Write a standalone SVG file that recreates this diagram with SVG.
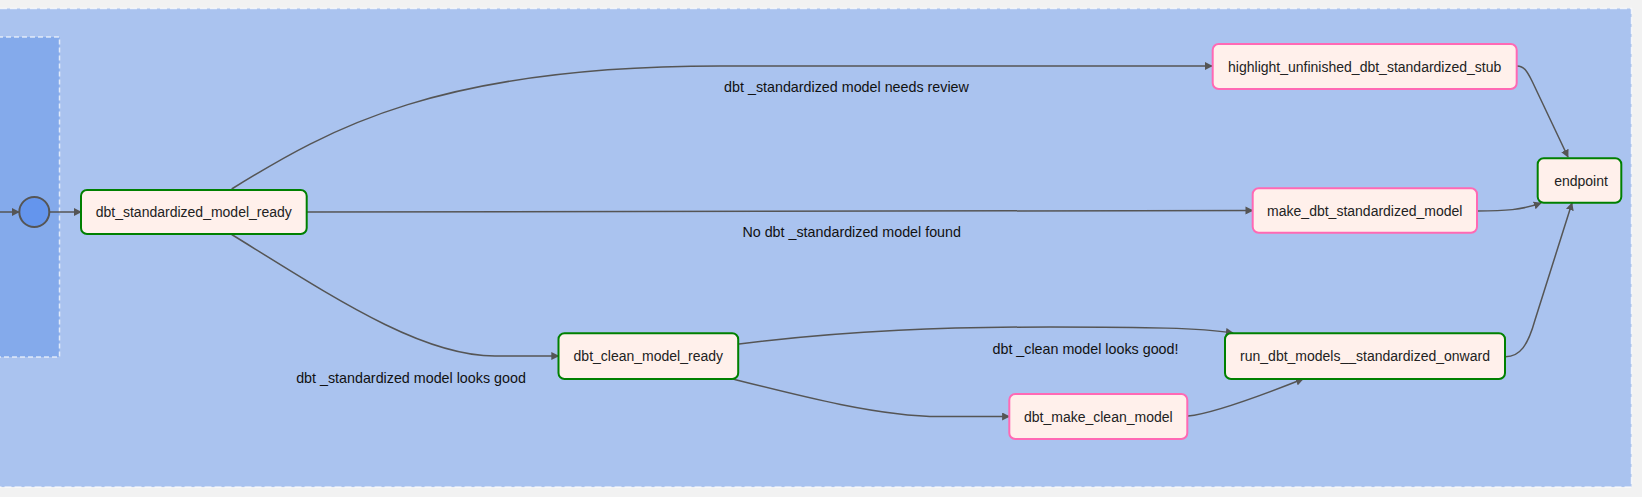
<svg xmlns="http://www.w3.org/2000/svg" width="1642" height="497" viewBox="0 0 1642 497">
<defs>
<marker id="arr" viewBox="0 0 10 10" refX="9" refY="5" markerWidth="8" markerHeight="8" markerUnits="userSpaceOnUse" orient="auto">
<path d="M0,0 L10,5 L0,10 z" fill="#555"/>
</marker>
<style>
.node rect{fill:#fff0eb;stroke-width:2;}
.ok rect{stroke:#008000;}
.warn rect{stroke:#ff69b4;}
text{font-family:"Liberation Sans",Arial,sans-serif;font-size:14px;fill:#222;}
.node text{text-anchor:middle;dominant-baseline:central;}
.lbl{text-anchor:middle;dominant-baseline:central;font-size:14.3px;fill:#111;}
.edge{fill:none;stroke:#555;stroke-width:1.5;marker-end:url(#arr);}
</style>
</defs>
<rect x="0" y="0" width="1642" height="497" fill="#f2f2f2"/>
<g id="container">
<rect x="-10" y="8.5" width="1641.5" height="478.5" fill="#aac3ef" stroke="#ffffff" stroke-opacity="0.7" stroke-width="1.5" stroke-dasharray="7 3"/>
<rect x="-10" y="37" width="69.5" height="320" fill="#84aaeb" stroke="#ffffff" stroke-opacity="0.7" stroke-width="1.5" stroke-dasharray="5 3"/>
</g>
<g id="connectors">
<path class="edge" d="M0,212 L19,212"/>
<path class="edge" d="M49,212 L81,212"/>
<path class="edge" d="M231.7,189 C330,128 440,66 720,66 L1212,66"/>
<path class="edge" d="M306.7,212 C600,211.5 900,211 1252.7,210.5"/>
<path class="edge" d="M231.7,234.5 C330,295 420,356 495,356 L558.5,356"/>
<path class="edge" d="M739,344 C850,330 950,327 1050,327 C1150,327 1200,328 1233,333"/>
<path class="edge" d="M733,379 C800,396 880,416.5 940,416.5 L1009.3,416.5"/>
<path class="edge" d="M1188,416 C1210,414 1260,396 1303,379"/>
<path class="edge" d="M1517,66 C1524,66 1527,71 1532,81 L1568,157"/>
<path class="edge" d="M1477,211 C1505,211 1522,210 1541,203"/>
<path class="edge" d="M1505,356.7 C1520,357 1528,345 1535,320 L1572,203"/>
<text class="lbl" x="846.5" y="86.7">dbt _standardized model needs review</text>
<text class="lbl" x="851.7" y="232.3">No dbt _standardized model found</text>
<text class="lbl" x="411" y="377.7">dbt _standardized model looks good</text>
<text class="lbl" x="1085.5" y="349.3">dbt _clean model looks good!</text>
</g>
<g id="start">
<circle cx="34.3" cy="212" r="15" fill="#6495ed" stroke="#555" stroke-width="2"/>
</g>
<g id="dbt_standardized_model_ready" class="node ok">
<rect x="81" y="190" width="225.7" height="44" rx="6"/>
<text x="193.8" y="212">dbt_standardized_model_ready</text>
</g>
<g id="highlight_unfinished_dbt_standardized_stub" class="node warn">
<rect x="1212.7" y="44" width="304" height="45" rx="6"/>
<text x="1364.7" y="66.5">highlight_unfinished_dbt_standardized_stub</text>
</g>
<g id="make_dbt_standardized_model" class="node warn">
<rect x="1252.7" y="188.3" width="224.3" height="44.4" rx="6"/>
<text x="1364.8" y="210.5">make_dbt_standardized_model</text>
</g>
<g id="endpoint" class="node ok">
<rect x="1537.7" y="158.3" width="83.6" height="44.4" rx="6"/>
<text x="1581" y="180.5">endpoint</text>
</g>
<g id="dbt_clean_model_ready" class="node ok">
<rect x="558.5" y="333.3" width="179.7" height="45.7" rx="6"/>
<text x="648.3" y="356">dbt_clean_model_ready</text>
</g>
<g id="run_dbt_models__standardized_onward" class="node ok">
<rect x="1225" y="333.3" width="280" height="45.7" rx="6"/>
<text x="1365" y="356">run_dbt_models__standardized_onward</text>
</g>
<g id="dbt_make_clean_model" class="node warn">
<rect x="1009.3" y="394" width="178" height="45" rx="6"/>
<text x="1098.3" y="416.5">dbt_make_clean_model</text>
</g>
</svg>
